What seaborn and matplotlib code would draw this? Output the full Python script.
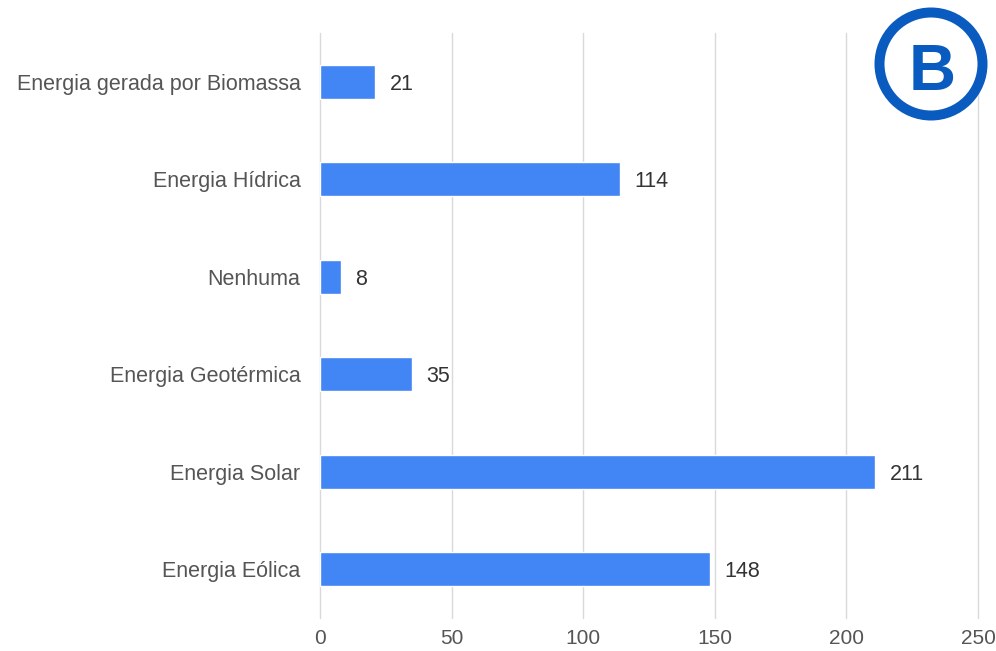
import matplotlib.pyplot as plt
import seaborn as sns
from matplotlib.patches import Circle

# Data
categories = [
    "Energia gerada por Biomassa",
    "Energia Hídrica",
    "Nenhuma",
    "Energia Geotérmica",
    "Energia Solar",
    "Energia Eólica",
]
values = [21, 114, 8, 35, 211, 148]
x_ticks = [0, 50, 100, 150, 200, 250]

sns.set_theme(style="whitegrid")
plt.rcParams['font.family'] = ['Liberation Sans', 'DejaVu Sans']

fig = plt.figure(figsize=(9.96, 6.51), dpi=100)
ax = fig.add_axes([320 / 996, 1 - 618 / 651, 658 / 996, 585 / 651])

sns.barplot(x=values, y=categories, color="#4285F4", width=0.35,
            saturation=1, ax=ax, orient="h")

ax.set_xlim(0, 250)
ax.set_ylim(5.5, -0.5)
ax.set_xticks(x_ticks)
ax.set_xlabel("")
ax.set_ylabel("")
ax.grid(axis="x", color="#d9d9d9", linewidth=1)
ax.grid(axis="y", visible=False)
for line in ax.get_xgridlines():
    line.set_clip_on(False)
for s in ax.spines.values():
    s.set_visible(False)
ax.tick_params(axis="both", length=0, labelcolor="#555555")
ax.tick_params(axis="y", pad=14, labelsize=15.5)
ax.tick_params(axis="x", pad=8, labelsize=15)

for i, v in enumerate(values):
    ax.text(v + 5.5, i, str(v), va="center_baseline", ha="left", fontsize=15.5, color="#333333")

# logo in the top right corner
lax = fig.add_axes([(931 - 62) / 996, 1 - (64 + 62) / 651, 124 / 996, 124 / 651])
lax.set_xlim(-62, 62)
lax.set_ylim(-62, 62)
lax.set_aspect("equal")
lax.axis("off")
lax.add_patch(Circle((0, 0), 51.5, facecolor="white", edgecolor="#0A5BC0", linewidth=7.2))
lax.text(1, -3, "B", ha="center", va="center_baseline", fontsize=47, fontweight="bold", color="#0A5BC0")

plt.savefig("out.png", dpi=100)
